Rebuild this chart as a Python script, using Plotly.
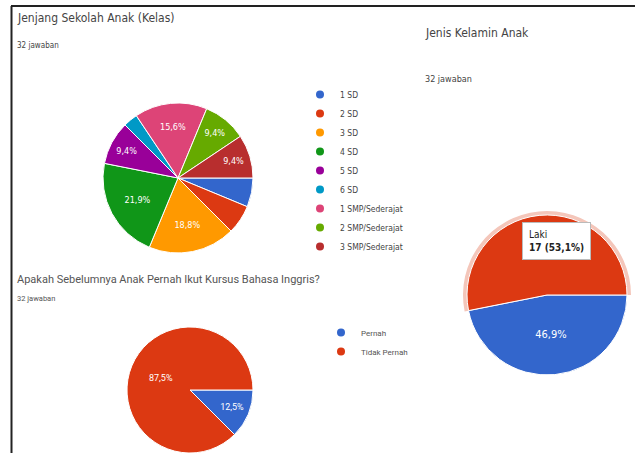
import plotly.graph_objects as go

# ---------------- data ----------------
kelas_labels = ["1 SD", "2 SD", "3 SD", "4 SD", "5 SD", "6 SD",
                "1 SMP/Sederajat", "2 SMP/Sederajat", "3 SMP/Sederajat"]
kelas_values = [2, 2, 6, 7, 3, 1, 5, 3, 3]
kelas_colors = ["#3366cc", "#dc3912", "#ff9900", "#109618", "#990099",
                "#0099c6", "#dd4477", "#66aa00", "#b82e2e"]

kursus_labels = ["Pernah", "Tidak Pernah"]
kursus_values = [4, 28]
kursus_colors = ["#3366cc", "#dc3912"]

gender_labels = ["Perempuan", "Laki"]
gender_values = [15, 17]
gender_colors = ["#3366cc", "#dc3912"]

W, H = 635, 453
NARROW = "DejaVu Sans Condensed, Liberation Sans Narrow, Roboto, sans-serif"
REG = "Roboto, Arial, sans-serif"


def pct(v, total):
    return f"{100 * v / total:.1f}".replace(".", ",") + "%"


def labels_for(values, threshold=0.09):
    t = sum(values)
    return [pct(v, t) if v / t >= threshold else "" for v in values]


def fx(x):
    return x / W


def fy(y):
    return 1 - y / H


fig = go.Figure()

# ---- pie 1 : Jenjang Sekolah ----
fig.add_trace(go.Pie(
    labels=kelas_labels, values=kelas_values, sort=False,
    direction="clockwise", rotation=90,
    marker=dict(colors=kelas_colors, line=dict(color="white", width=1)),
    text=labels_for(kelas_values), textinfo="text", textposition="inside",
    insidetextorientation="horizontal",
    textfont=dict(family=NARROW, size=9, color="white"),
    domain=dict(x=[fx(103), fx(253)], y=[fy(253), fy(103)]),
    showlegend=False, hoverinfo="skip",
))

# ---- pie 2 : Kursus ----
fig.add_trace(go.Pie(
    labels=kursus_labels, values=kursus_values, sort=False,
    direction="clockwise", rotation=90,
    marker=dict(colors=kursus_colors, line=dict(color="white", width=1)),
    text=labels_for(kursus_values), textinfo="text", textposition="inside",
    insidetextorientation="horizontal",
    textfont=dict(family=REG, size=9, color="white"),
    domain=dict(x=[fx(126), fx(254)], y=[0, fy(327)]),
    showlegend=False, hoverinfo="skip",
))

# ---- pie 3 : Jenis Kelamin (highlight ring behind) ----
fig.add_trace(go.Pie(
    labels=gender_labels, values=gender_values, sort=False,
    direction="clockwise", rotation=90,
    marker=dict(colors=["rgba(0,0,0,0)", "#f4c6ba"], line=dict(width=0)),
    textinfo="none",
    domain=dict(x=[fx(463), fx(631)], y=[fy(379), fy(211)]),
    showlegend=False, hoverinfo="skip",
))
g_text = labels_for(gender_values)
g_text[1] = ""  # covered by tooltip in the reference
fig.add_trace(go.Pie(
    labels=gender_labels, values=gender_values, sort=False,
    direction="clockwise", rotation=90,
    marker=dict(colors=gender_colors, line=dict(color="white", width=1)),
    text=g_text, textinfo="text", textposition="inside",
    insidetextorientation="horizontal",
    textfont=dict(family=NARROW, size=11, color="white"),
    domain=dict(x=[fx(467), fx(627)], y=[fy(375), fy(215)]),
    showlegend=False, hoverinfo="skip",
))

# ---- legend entries (circle markers) ----
for lab, col in zip(kelas_labels, kelas_colors):
    fig.add_trace(go.Scatter(x=[None], y=[None], mode="markers", name=lab,
                             marker=dict(color=col, size=8, symbol="circle"),
                             legend="legend", hoverinfo="skip"))
for lab, col in zip(kursus_labels, kursus_colors):
    fig.add_trace(go.Scatter(x=[None], y=[None], mode="markers", name=lab,
                             marker=dict(color=col, size=8, symbol="circle"),
                             legend="legend2", hoverinfo="skip"))

annotations = [
    dict(text="Jenjang Sekolah Anak (Kelas)", x=fx(15), y=fy(18),
         font=dict(family=NARROW, size=12, color="#444444")),
    dict(text="32 jawaban", x=fx(15), y=fy(46),
         font=dict(family=NARROW, size=8, color="#444444")),
    dict(text="Apakah Sebelumnya Anak Pernah Ikut Kursus Bahasa Inggris?",
         x=fx(15), y=fy(279), font=dict(family=REG, size=11, color="#555555")),
    dict(text="32 jawaban", x=fx(15), y=fy(298),
         font=dict(family=REG, size=7.5, color="#555555")),
    dict(text="Jenis Kelamin Anak", x=fx(423), y=fy(33),
         font=dict(family=NARROW, size=12, color="#444444")),
    dict(text="32 jawaban", x=fx(423), y=fy(79),
         font=dict(family=NARROW, size=9, color="#444444")),
]
for a in annotations:
    a.update(xref="paper", yref="paper", xanchor="left", yanchor="middle",
             showarrow=False)

annotations.append(dict(
    text="Laki<br><b>17 (53,1%)</b>", x=fx(522), y=fy(222),
    xref="paper", yref="paper", xanchor="left", yanchor="top",
    showarrow=False, align="left", bgcolor="white", bordercolor="#bbbbbb",
    borderwidth=1, borderpad=6,
    font=dict(family=NARROW, size=10, color="#222222")))

fig.update_layout(
    width=W, height=H, margin=dict(l=0, r=0, t=0, b=0),
    paper_bgcolor="white", plot_bgcolor="white",
    xaxis=dict(visible=False), yaxis=dict(visible=False),
    annotations=annotations,
    legend=dict(x=fx(300), y=fy(80), xanchor="left", yanchor="top",
                font=dict(family=NARROW, size=8.5, color="#444444"),
                bgcolor="rgba(0,0,0,0)", tracegroupgap=0),
    legend2=dict(x=fx(321), y=fy(318), xanchor="left", yanchor="top",
                 font=dict(family=REG, size=8, color="#555555"),
                 bgcolor="rgba(0,0,0,0)"),
    shapes=[
        dict(type="line", xref="paper", yref="paper", layer="above",
             x0=fx(11), x1=1, y0=fy(6), y1=fy(6),
             line=dict(color="#222222", width=2)),
        dict(type="line", xref="paper", yref="paper", layer="above",
             x0=fx(11.5), x1=fx(11.5), y0=0, y1=fy(6),
             line=dict(color="#222222", width=2)),
    ],
)

fig.write_html("out.html", config={"displayModeBar": False},
               post_script="document.body.style.margin='0';document.body.style.overflow='hidden';")
